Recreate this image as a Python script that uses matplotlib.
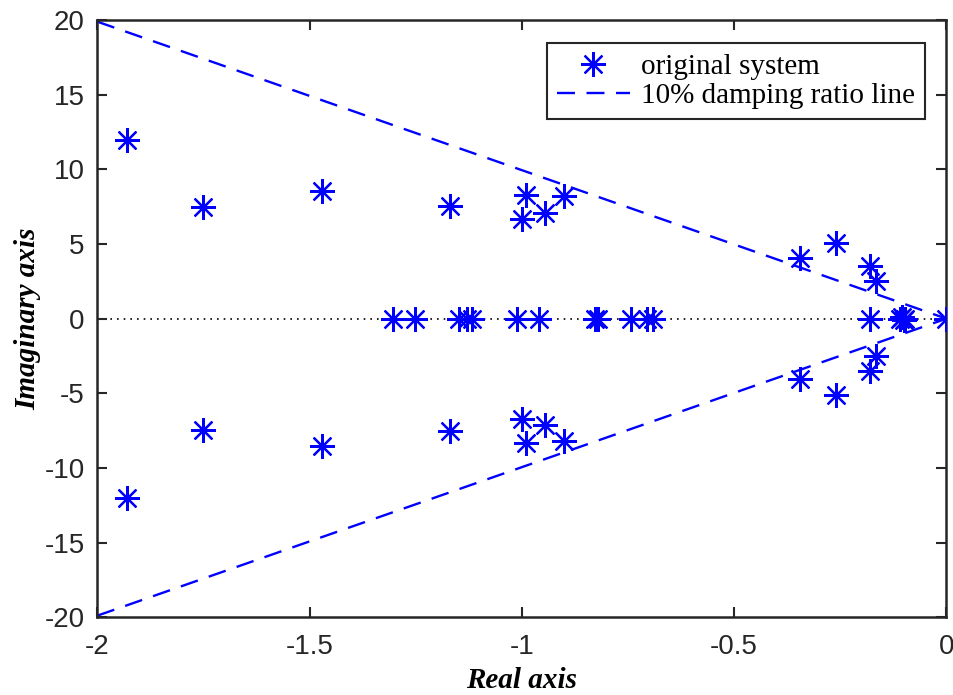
import matplotlib
matplotlib.use('Agg')
import matplotlib.pyplot as plt
import numpy as np

# Poles
# complex poles (upper half); the conjugates are drawn too
cplx_re = [-1.93, -1.75, -1.47, -1.17, -0.99, -1.0, -0.945, -0.90,
           -0.345, -0.26, -0.18, -0.165]
cplx_im = [12.0, 7.45, 8.55, 7.55, 8.3, 6.7, 7.1, 8.2,
           4.05, 5.1, 3.5, 2.5]
# real poles
real_re = [-1.304, -1.251, -1.149, -1.129, -1.117, -1.011, -0.959,
           -0.827, -0.821, -0.743, -0.705, -0.690, -0.181,
           -0.110, -0.105, -0.100, -0.098, 0.0]
real_im = [0, 0, 0, 0, 0, 0, 0, 0, 0, 0, 0, 0, 0, 0, 0.12, -0.12, 0, 0]

zeta = 0.10
x_line = [-2.0, 0.0]

re_all = np.concatenate([cplx_re, cplx_re, real_re])
im_all = np.concatenate([cplx_im, -np.array(cplx_im), real_im])

blue = '#0000ff'
fig = plt.figure(figsize=(9.54, 6.95), dpi=100)
ax = fig.add_axes([0.102, 0.112, 0.890, 0.859])

ax.plot(x_line, [0, 0], linestyle=(0, (1, 3)), color='black', linewidth=1.2, zorder=1)

ax.plot(re_all, im_all, linestyle='none', marker=(8, 2, 0), markersize=18,
        markeredgewidth=1.6, color=blue, label='original system', zorder=3)

slope = np.sqrt(1 - zeta**2) / zeta
y_up = [-slope * x for x in x_line]
ax.plot(x_line, y_up, color=blue, linewidth=1.7, dashes=(7.6, 4.9),
        label='10% damping ratio line', zorder=2)
ax.plot(x_line, [-y for y in y_up], color=blue, linewidth=1.7, dashes=(7.6, 4.9), zorder=2)

ax.set_xlim(-2, 0)
ax.set_ylim(-20, 20)
ax.set_xticks([-2, -1.5, -1, -0.5, 0])
ax.set_xticklabels(['-2', '-1.5', '-1', '-0.5', '0'])
ax.set_yticks(range(-20, 21, 5))
ax.set_yticklabels([str(v) for v in range(-20, 21, 5)])

for s in ax.spines.values():
    s.set_linewidth(1.8)
    s.set_color('#262626')
ax.tick_params(direction='in', length=7, width=1.5, top=True, right=True,
               labelsize=20, colors='#262626')
ax.tick_params(axis='x', pad=12)
ax.tick_params(axis='y', pad=9)
for lab in ax.get_xticklabels() + ax.get_yticklabels():
    lab.set_family('Liberation Sans')

ax.set_xlabel('Real axis', fontsize=21, fontweight='bold', fontstyle='italic',
              family='Liberation Serif', labelpad=5)
ax.set_ylabel('Imaginary axis', fontsize=21, fontweight='bold', fontstyle='italic',
              family='Liberation Serif', labelpad=2)

leg = ax.legend(loc='upper right', bbox_to_anchor=(0.975, 0.9615), borderaxespad=0,
                prop={'family': 'Liberation Serif', 'size': 21}, fancybox=False,
                framealpha=1, edgecolor='#262626', handlelength=2.5,
                handletextpad=0.38, borderpad=0.35, labelspacing=0.1)
leg.get_frame().set_linewidth(1.5)

fig.savefig('out.png', dpi=100)
